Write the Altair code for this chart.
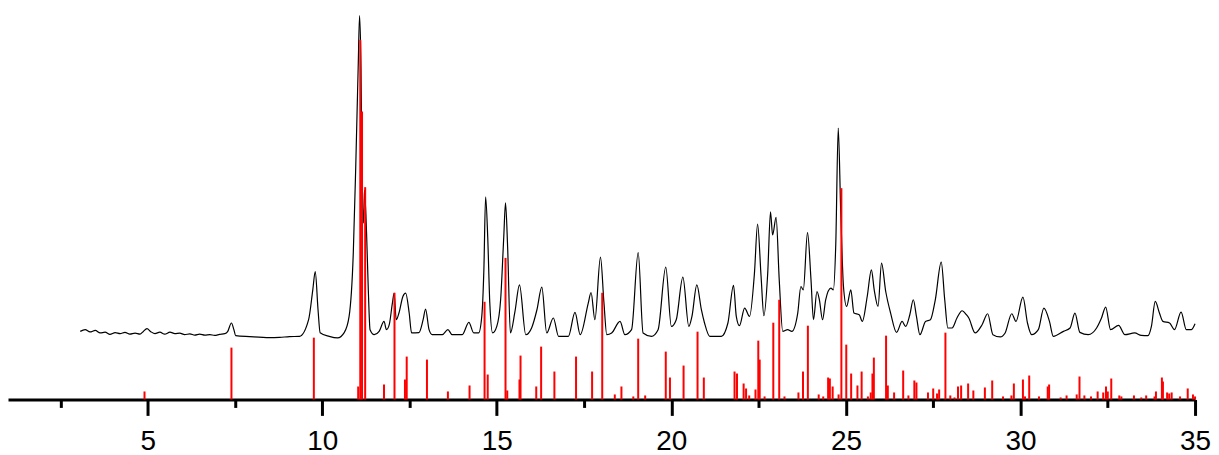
import altair as alt
import pandas as pd

# Experimental pattern (2-theta in degrees, intensity in arbitrary units, offset above the stick baseline)
exp_2theta = [
    3.07, 3.21, 3.35, 3.50, 3.64, 3.78, 3.92, 4.07, 4.21, 4.35, 4.49, 4.64, 4.78, 4.87, 4.98, 5.09,
    5.21, 5.35, 5.49, 5.64, 5.78, 5.92, 6.06, 6.21, 6.35, 6.49, 6.64, 6.78, 6.92, 7.06, 7.21, 7.29,
    7.40, 7.47, 7.52, 7.92, 8.49, 8.78, 9.06, 9.35, 9.61, 9.73, 9.80, 9.88, 9.94, 10.20, 10.44,
    10.63, 10.77, 10.89, 10.96, 11.03, 11.07, 11.11, 11.15, 11.18, 11.21, 11.27, 11.32, 11.37,
    11.49, 11.63, 11.77, 11.84, 11.92, 12.01, 12.06, 12.12, 12.20, 12.31, 12.39, 12.49, 12.56,
    12.77, 12.89, 12.96, 13.06, 13.15, 13.44, 13.60, 13.72, 14.01, 14.20, 14.34, 14.48, 14.57,
    14.63, 14.68, 14.74, 14.80, 14.88, 15.00, 15.11, 15.20, 15.25, 15.31, 15.39, 15.52, 15.65, 15.83,
    16.00, 16.15, 16.29, 16.43, 16.62, 16.77, 17.05, 17.24, 17.39, 17.62, 17.70, 17.81, 17.97, 18.07, 18.15,
    18.29, 18.53, 18.67, 18.86, 19.05, 19.19, 19.43, 19.62, 19.84, 20.00, 20.14, 20.33, 20.50,
    20.59, 20.73, 20.86, 20.95, 21.10, 21.43, 21.62, 21.78, 21.86, 21.95, 22.10, 22.24, 22.38,
    22.47, 22.57, 22.65, 22.76, 22.84, 22.90, 23.00, 23.09, 23.19, 23.33, 23.45, 23.62, 23.71,
    23.78, 23.90, 24.00, 24.07, 24.17, 24.24, 24.33, 24.42, 24.57, 24.64, 24.71, 24.78, 24.85,
    24.93, 25.02, 25.14, 25.23, 25.38, 25.47, 25.61, 25.73, 25.81, 25.92, 26.02, 26.14, 26.28,
    26.45, 26.61, 26.71, 26.83, 26.93, 27.02, 27.12, 27.28, 27.42, 27.56, 27.73, 27.83, 27.92,
    28.04, 28.18, 28.33, 28.45, 28.52, 28.70, 28.90, 29.06, 29.21, 29.42, 29.56, 29.75, 29.87,
    30.07, 30.20, 30.32, 30.51, 30.67, 30.83, 30.94, 31.23, 31.42, 31.56, 31.70, 31.94, 32.18,
    32.32, 32.44, 32.58, 32.81, 32.99, 33.27, 33.46, 33.65, 33.75, 33.86, 33.98, 34.08, 34.27,
    34.41, 34.60, 34.75, 34.89, 35.00,
]
exp_intensity = [
    68.3, 70.0, 67.7, 69.3, 66.7, 67.5, 65.3, 67.0, 66.0, 67.3, 65.5, 66.5, 65.5, 68.0, 71.0, 68.0,
    66.0, 67.5, 65.5, 67.5, 66.0, 66.5, 65.0, 65.8, 64.5, 65.5, 64.5, 65.0, 64.3, 65.3, 66.0, 68.0,
    76.7, 70.0, 64.0, 63.0, 62.0, 62.3, 63.0, 63.3, 80.0, 110.0, 128.3, 90.0, 67.0, 63.3, 61.7,
    67.0, 83.3, 147.0, 233.3, 333.3, 385.0, 333.3, 193.3, 177.0, 210.0, 167.0, 110.0, 70.0,
    65.0, 68.3, 78.3, 70.0, 75.0, 96.7, 106.7, 80.0, 87.0, 103.3, 106.7, 87.0, 66.7,
    67.0, 80.0, 90.7, 70.0, 65.0, 65.0, 70.0, 65.0, 65.0, 77.3, 66.7, 66.7, 83.3,
    130.0, 203.3, 163.3, 96.7, 66.7, 73.3, 100.0, 163.3, 197.3, 153.3, 66.7, 88.0, 115.0, 65.0,
    72.0, 90.0, 112.7, 66.7, 81.7, 63.3, 63.3, 87.3, 65.0, 96.7, 107.3, 80.0, 142.7, 96.7, 65.0,
    66.7, 78.3, 65.0, 70.0, 147.3, 66.7, 63.3, 70.0, 132.7, 73.3, 80.0, 122.7, 73.3,
    83.3, 115.0, 90.0, 76.7, 63.3, 63.3, 76.7, 114.5, 83.3, 74.0, 91.7, 83.3, 126.7,
    176.0, 123.3, 84.0, 126.7, 188.3, 165.0, 182.7, 120.0, 68.3, 70.0, 68.3, 86.7, 113.3,
    110.0, 167.3, 120.0, 80.0, 108.3, 100.0, 80.0, 100.0, 111.7, 110.0, 156.7, 272.3, 190.0,
    113.3, 93.3, 110.0, 86.7, 85.0, 78.3, 103.3, 130.0, 110.0, 93.3, 136.7, 108.3, 86.7,
    67.3, 78.3, 73.3, 85.0, 100.0, 83.3, 65.0, 78.3, 80.0, 100.0, 137.7, 100.0, 71.7,
    71.7, 81.7, 89.0, 85.0, 81.7, 66.7, 75.0, 86.0, 65.0, 62.7, 66.7, 86.0, 78.3,
    102.7, 76.7, 65.0, 70.0, 91.7, 78.3, 63.3, 68.3, 71.7, 86.7, 67.3, 65.0, 71.7,
    81.7, 92.7, 70.0, 74.3, 65.0, 66.7, 64.3, 64.0, 73.3, 98.3, 86.7, 78.3, 76.7,
    70.0, 87.7, 70.0, 70.0, 76.0,
]

# Calculated reflections (stick pattern)
calc_2theta = [
    4.91, 7.40, 9.76, 11.03, 11.09, 11.14, 11.23, 11.77, 12.07, 12.37, 12.42, 13.00, 13.60, 14.22,
    14.65, 14.74, 15.25, 15.30, 15.65, 15.68, 16.13, 16.27, 16.65, 17.27, 17.73, 18.02, 18.38,
    18.57, 18.91, 19.05, 19.25, 19.84, 19.96, 20.35, 20.75, 20.93, 21.81, 21.88, 22.07, 22.14,
    22.23, 22.41, 22.49, 22.53, 22.67, 22.92, 23.09, 23.24, 23.64, 23.77, 23.91, 24.22, 24.35,
    24.49, 24.54, 24.62, 24.79, 24.87, 25.01, 25.15, 25.33, 25.45, 25.63, 25.71, 25.76, 25.80,
    26.15, 26.20, 26.38, 26.64, 26.79, 26.96, 27.02, 27.35, 27.50, 27.61, 27.67, 27.85, 27.99,
    28.11, 28.21, 28.30, 28.50, 28.65, 28.98, 29.19, 29.50, 29.74, 29.81, 30.07, 30.13, 30.25,
    30.53, 30.78, 30.82, 31.15, 31.32, 31.61, 31.69, 31.83, 32.02, 32.21, 32.37, 32.45, 32.50,
    32.60, 32.83, 32.89, 33.25, 33.46, 33.60, 33.84, 33.88, 34.05, 34.08, 34.20, 34.26, 34.33,
    34.57, 34.79, 34.94, 35.00,
]
calc_intensity = [
    8, 52, 62, 13, 361, 289, 213, 15, 107, 20, 43, 40, 8, 14,
    98, 25, 142, 9, 20, 44, 13, 53, 28, 43, 28, 107, 5,
    13, 3, 61, 4, 48, 22, 34, 68, 22, 28, 26, 16, 11,
    4, 10, 59, 40, 3, 77, 100, 3, 7, 28, 74, 5, 3,
    22, 21, 13, 5, 212, 55, 26, 14, 28, 3, 7, 26, 42,
    64, 14, 7, 29, 4, 19, 17, 7, 11, 6, 10, 67, 4,
    2, 13, 14, 16, 9, 12, 19, 3, 4, 16, 20, 3, 24,
    3, 13, 15, 2, 4, 5, 23, 4, 3, 8, 7, 13, 8,
    21, 4, 3, 4, 2, 4, 3, 8, 22, 18, 7, 6, 7,
    3, 11, 5, 3,
]

major_ticks = [5, 10, 15, 20, 25, 30, 35]
minor_ticks = [2.5, 7.5, 12.5, 17.5, 22.5, 27.5, 32.5]

exp = pd.DataFrame({"two_theta": exp_2theta, "intensity": exp_intensity})
calc = pd.DataFrame({"two_theta": calc_2theta, "intensity": calc_intensity, "base": [0] * len(calc_2theta)})

xscale = alt.Scale(domain=[1, 35], nice=False, zero=False)
yscale = alt.Scale(domain=[0, 392], nice=False, zero=True)

line = alt.Chart(exp).mark_line(color="#000000", strokeWidth=1.2, interpolate="monotone").encode(
    x=alt.X(
        "two_theta:Q",
        scale=xscale,
        title=None,
        axis=alt.Axis(
            orient="bottom",
            values=major_ticks,
            format="d",
            tickSize=16,
            tickWidth=3,
            tickColor="#000000",
            domainWidth=3,
            domainColor="#000000",
            labelFont="Liberation Sans",
            labelFontSize=28,
            labelColor="#000000",
            labelPadding=12,
            labelFlush=False,
            grid=False,
        ),
    ),
    y=alt.Y("intensity:Q", scale=yscale, axis=None),
)

sticks = alt.Chart(calc).mark_rule(color="#ff0000", strokeWidth=2).encode(
    x=alt.X(
        "two_theta:Q",
        scale=xscale,
        title=None,
        axis=alt.Axis(
            orient="bottom",
            values=minor_ticks,
            tickSize=8,
            tickWidth=3,
            tickColor="#000000",
            labels=False,
            domain=False,
            grid=False,
        ),
    ),
    y=alt.Y("base:Q", scale=yscale, axis=None),
    y2="intensity:Q",
)

chart = (
    alt.layer(line, sticks)
    .resolve_axis(x="independent")
    .properties(width=1191, height=392, padding=0, background="white")
    .configure_view(strokeWidth=0)
)

chart.save("out.html", embed_options={"renderer": "svg", "actions": False})
